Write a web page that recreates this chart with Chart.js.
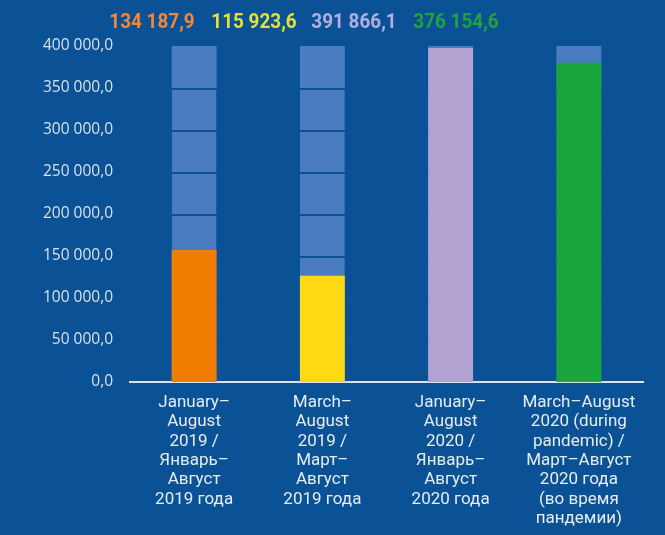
<!DOCTYPE html>
<html>
<head>
<meta charset="utf-8">
<script src="https://cdn.jsdelivr.net/npm/chart.js@4"></script>
<style>
  html, body { margin: 0; padding: 0; background: #0a5196; }
  #wrap { width: 665px; height: 535px; }
</style>
</head>
<body>
<div id="wrap"><canvas id="chart"></canvas></div>
<script>
// data
const categories = [
  ["January–", "August", "2019 /", "Январь–", "Август", "2019 года"],
  ["March–", "August", "2019 /", "Март–", "Август", "2019 года"],
  ["January–", "August", "2020 /", "Январь–", "Август", "2020 года"],
  ["March–August", "2020 (during", "pandemic) /", "Март–Август", "2020 года", "(во время", "пандемии)"]
];
const barValues = [157000, 126500, 397500, 380000];      // bar heights as drawn
const valueLabels = ["134 187,9", "115 923,6", "391 866,1", "376 154,6"]; // printed on top
const barColors = ["#f07d00", "#ffd912", "#b2a2d2", "#1ba63b"];
const labelColors = ["#f0873a", "#e4e03a", "#b4aee0", "#22a23e"];
const yMax = 400000;
const yStep = 50000;

const BG = "#0a5196";
const SEG = "#4a7cc1";

// background column made of 50 000 blocks
const segCount = yMax / yStep;
const segDatasets = [];
for (let i = 0; i < segCount; i++) {
  segDatasets.push({
    data: categories.map(() => yStep),
    backgroundColor: SEG,
    borderColor: BG,
    borderWidth: i === segCount - 1 ? 0 : { top: 2, bottom: 0, left: 0, right: 0 },
    borderSkipped: "start",
    stack: "bg",
    grouped: false,
    order: 1,
    barPercentage: 0.35,
    categoryPercentage: 1
  });
}

const fmt = v => {
  const s = Math.round(v).toString().replace(/\B(?=(\d{3})+(?!\d))/g, " ");
  return s + ",0";
};

// value row above the chart
const valueRow = {
  id: "valueRow",
  afterDraw(chart) {
    const ctx = chart.ctx;
    const xs = [152, 254, 354, 456];
    ctx.save();
    ctx.font = "bold 21px Roboto";
    ctx.textBaseline = "middle";
    ctx.textAlign = "center";
    valueLabels.forEach((t, i) => {
      ctx.save();
      ctx.translate(xs[i], 23);
      ctx.scale(0.9, 1);
      ctx.fillStyle = labelColors[i];
      ctx.fillText(t, 0, 0);
      ctx.restore();
    });
    ctx.restore();
  }
};

new Chart(document.getElementById("chart"), {
  type: "bar",
  data: {
    labels: categories,
    datasets: [
      {
        data: barValues,
        backgroundColor: barColors,
        borderWidth: 0,
        stack: "fg",
        grouped: false,
        order: 0,
        barPercentage: 0.35,
        categoryPercentage: 1
      },
      ...segDatasets
    ]
  },
  options: {
    responsive: true,
    maintainAspectRatio: false,
    animation: false,
    layout: { padding: { top: 46, right: 22, bottom: 0, left: 0 } },
    plugins: {
      legend: { display: false },
      tooltip: { enabled: false }
    },
    scales: {
      x: {
        grid: { display: false, drawTicks: false },
        border: { display: true, color: "#d6e4f2", width: 2 },
        ticks: {
          color: "#e6edf5",
          font: { family: "Roboto", size: 17, lineHeight: 1.14 },
          padding: 11,
          maxRotation: 0,
          autoSkip: false
        },
        afterFit: s => { s.height = 153; }
      },
      y: {
        stacked: true,
        min: 0,
        max: yMax,
        grid: { display: false, drawTicks: false },
        border: { display: false },
        ticks: {
          stepSize: yStep,
          color: "#d6e2ef",
          font: { family: "Open Sans", size: 15.5 },
          padding: 17,
          callback: v => fmt(v)
        },
        afterFit: s => { s.width = 130; }
      }
    }
  },
  plugins: [valueRow]
});
</script>
</body>
</html>
